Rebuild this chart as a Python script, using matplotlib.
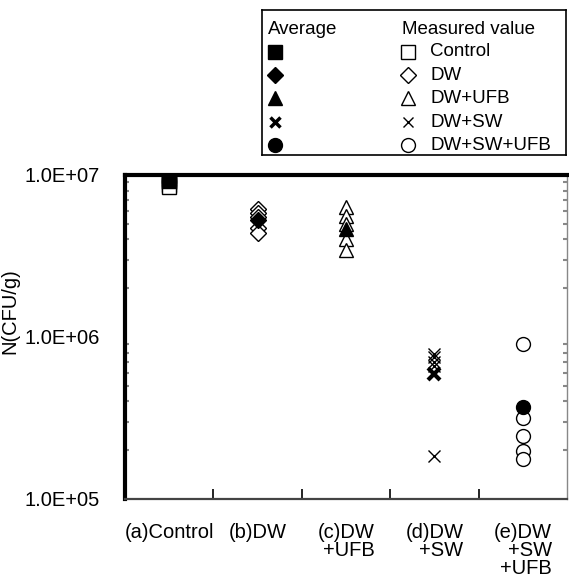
import numpy as np
import matplotlib
matplotlib.use("Agg")
import matplotlib.pyplot as plt
import matplotlib.transforms as mtransforms
from matplotlib.ticker import FixedLocator, NullFormatter

plt.rcParams['font.family'] = ['Liberation Sans', 'DejaVu Sans']
plt.rcParams['font.size'] = 14.5

# data
categories = ['(a)Control', '(b)DW', '(c)DW\n+UFB', '(d)DW\n+SW', '(e)DW\n+SW\n+UFB']
legend_names = ['Control', 'DW', 'DW+UFB', 'DW+SW', 'DW+SW+UFB']
measured = [
    [9.8e6, 9.4e6, 9.0e6, 8.7e6, 8.4e6],
    [6.2e6, 5.8e6, 5.5e6, 4.7e6, 4.4e6],
    [6.35e6, 5.6e6, 5.0e6, 4.0e6, 3.45e6],
    [7.9e5, 7.5e5, 7.0e5, 6.6e5, 1.84e5],
    [9.0e5, 3.15e5, 2.44e5, 1.97e5, 1.76e5],
]
averages = [9.2e6, 5.3e6, 4.66e6, 5.9e5, 3.68e5]
markers = ['s', 'D', '^', 'x', 'o']
sizes = [10, 8.5, 10, 9, 10]

fig = plt.figure(figsize=(5.69, 5.81), dpi=100)
ax = fig.add_axes([125/569, 1 - 499/581, 442/569, 324/581])

for i, (vals, avg) in enumerate(zip(measured, averages)):
    m = markers[i]
    if m == 'x':
        ax.plot([i]*len(vals), vals, ls='none', marker='x', ms=sizes[i], mec='black', mew=1.0)
        ax.plot([i], [avg], ls='none', marker='x', ms=sizes[i], mec='black', mew=3.0)
    else:
        ax.plot([i]*len(vals), vals, ls='none', marker=m, ms=sizes[i], mfc='white', mec='black', mew=1.0)
        ax.plot([i], [avg], ls='none', marker=m, ms=sizes[i], mfc='black', mec='black', mew=1.0)

ax.set_yscale('log')
ax.set_ylim(1e5, 1e7)
ax.set_xlim(-0.5, 4.5)
ax.set_yticks([1e5, 1e6, 1e7])
ax.set_yticklabels(['1.0E+05', '1.0E+06', '1.0E+07'])
ax.yaxis.set_minor_formatter(NullFormatter())
ax.tick_params(axis='y', which='major', length=0, pad=18)
ax.tick_params(axis='y', which='minor', direction='in', length=3, width=1.5,
               color='#888888', left=True, right=True)
ax.set_ylabel('N(CFU/g)')
ax.yaxis.set_label_coords(-0.24, 0.58)

ax.set_xticks(range(len(categories)))
ax.set_xticklabels(categories)
shifts = [-5, -3, 0, 7, 13]
for lbl, dx in zip(ax.get_xticklabels(), shifts):
    lbl.set_multialignment('right')
    lbl.set_linespacing(0.95)
    lbl.set_transform(lbl.get_transform() + mtransforms.Affine2D().translate(dx, 0))
ax.tick_params(axis='x', which='major', length=0, pad=17)
ax.xaxis.set_minor_locator(FixedLocator([0.5, 1.5, 2.5, 3.5]))
ax.tick_params(axis='x', which='minor', direction='in', length=7, width=1.2, color='black')

ax.spines['left'].set_linewidth(3)
ax.spines['top'].set_linewidth(3)
ax.spines['bottom'].set_linewidth(1.6)
ax.spines['bottom'].set_color('#444444')
ax.spines['right'].set_linewidth(1)
ax.spines['right'].set_color('#888888')

# legend box drawn in its own axes (pixel-like units)
lax = fig.add_axes([262/569, 1 - 155/581, 304/569, 145/581])
lax.set_xlim(0, 304)
lax.set_ylim(145, 0)
lax.set_xticks([])
lax.set_yticks([])
for s in lax.spines.values():
    s.set_linewidth(1.2)
lax.text(6, 20, 'Average', va='center', ha='left', fontsize=13.5)
lax.text(140, 20, 'Measured value', va='center', ha='left', fontsize=13.5)
rows = [42, 65, 88, 112, 135]
for i, name in enumerate(legend_names):
    m = markers[i]
    if m == 'x':
        lax.plot([13], [rows[i]], marker='x', ms=7, mec='black', mew=2.5, ls='none')
        lax.plot([146], [rows[i]], marker='x', ms=7, mec='black', mew=1.0, ls='none')
    else:
        lax.plot([13], [rows[i]], marker=m, ms=sizes[i], mfc='black', mec='black', ls='none')
        lax.plot([146], [rows[i]], marker=m, ms=sizes[i], mfc='white', mec='black', mew=1.0, ls='none')
    lax.text(168, rows[i], name, va='center', ha='left', fontsize=13.5)

fig.savefig('out.png', dpi=100)
